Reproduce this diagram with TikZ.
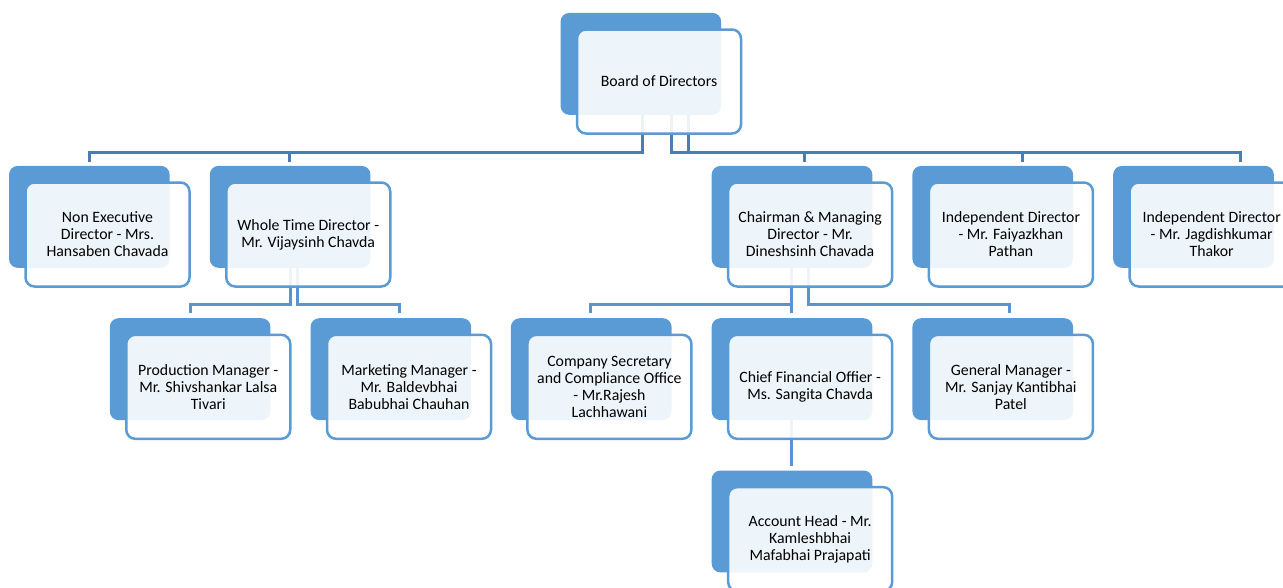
\documentclass[tikz,border=0pt]{standalone}
\usepackage{fontspec}
\setmainfont{Carlito}
\usetikzlibrary{positioning,shadows}
\definecolor{boxblue}{HTML}{5B9BD5}
\definecolor{topline}{HTML}{4A7DB5}
\definecolor{subline}{HTML}{5B93CF}
\pgfdeclarelayer{background}
\pgfsetlayers{background,main}
\tikzset{
    member/.style={rectangle, rounded corners=9pt, draw=boxblue, line width=2.5pt,
        fill=white, fill opacity=0.9, text opacity=1, text=black,
        minimum width=164pt, minimum height=104pt, inner sep=0pt, align=center,
        font=\fontsize{15.8pt}{17pt}\selectfont,
        general shadow={fill=boxblue, fill opacity=1, draw=none,
            shadow xshift=-18.5pt, shadow yshift=18pt, shadow scale=0.98}},
    elbow/.style={to path={-- ++(0,#1) -| (\tikztotarget)}},
    boardlink/.style={draw=topline, line width=3pt},
    sublink/.style={draw=subline, line width=3pt}
}
\begin{document}
\begin{tikzpicture}[x=1pt,y=1pt,node distance=152.3pt and 200.75pt,on grid]
            \useasboundingbox (0,0) rectangle (1283,-587);
            \node[member]    (board) at (659,-81.5) {Board of Directors};

            \node[member]    (nonexec) at (107.5,-234.5) {Non Executive\\Director - Mrs.\\Hansaben Chavada};
            \node[member]    (wholetime) [right=of nonexec] {Whole Time Director -\\Mr. Vijaysinh Chavda};
            \node[member]    (chairman) [right=501.9pt of wholetime] {Chairman \& Managing\\Director - Mr.\\Dineshsinh Chavada};
            \node[member]    (indepf) [right=of chairman] {Independent Director\\- Mr. Faiyazkhan\\Pathan};
            \node[member]    (indepj) [right=of indepf] {Independent Director\\- Mr. Jagdishkumar\\Thakor};

            \node[member]    (production) [below left=152.3pt and 100pt of wholetime] {Production Manager -\\Mr. Shivshankar Lalsa\\Tivari};
            \node[member]    (marketing) [right=of production] {Marketing Manager -\\Mr. Baldevbhai\\Babubhai Chauhan};
            \node[member]    (cfo) [below=of chairman] {Chief Financial Offier -\\Ms. Sangita Chavda};
            \node[member]    (secretary) [left=of cfo] {Company Secretary\\and Compliance Office\\- Mr.Rajesh\\Lachhawani};
            \node[member]    (general) [right=of cfo] {General Manager -\\Mr. Sanjay Kantibhai\\Patel};

            \node[member]    (account) [below=of cfo] {Account Head - Mr.\\Kamleshbhai\\Mafabhai Prajapati};

            \begin{pgfonlayer}{background}
            \path[boardlink]
            ([xshift=-17pt]board.center) edge [elbow=-70.5] ([xshift=-18.5pt,yshift=19.5pt]nonexec.north)
                     edge [elbow=-70.5] ([xshift=-18.5pt,yshift=19.5pt]wholetime.north)
            ([xshift=12pt]board.center) edge [elbow=-70.5] ([xshift=-5.5pt,yshift=19.5pt]chairman.north)
            ([xshift=29pt]board.center) edge [elbow=-70.5] ([xshift=11.5pt,yshift=19.5pt]indepf.north)
                     edge [elbow=-70.5] ([xshift=28.5pt,yshift=19.5pt]indepj.north);

            \path[sublink]
            ([xshift=-18pt]wholetime.center) edge [elbow=-69.5] ([xshift=-17.5pt,yshift=20.5pt]production.north)
            ([xshift=-11pt]wholetime.center) edge [elbow=-69.5] ([xshift=-9.5pt,yshift=20.5pt]marketing.north)
            ([xshift=-19pt]chairman.center) edge [elbow=-69.5] ([xshift=-18.5pt,yshift=20.5pt]secretary.north)
                     edge [elbow=-69.5] ([xshift=-19pt,yshift=20.5pt]cfo.north)
            ([xshift=-2pt]chairman.center) edge [elbow=-69.5] ([xshift=-1.5pt,yshift=20.5pt]general.north)
            ([xshift=-19pt]cfo.center) edge [elbow=-60] ([xshift=-19pt,yshift=19.8pt]account.north);
            \end{pgfonlayer}
    \end{tikzpicture}
\end{document}
